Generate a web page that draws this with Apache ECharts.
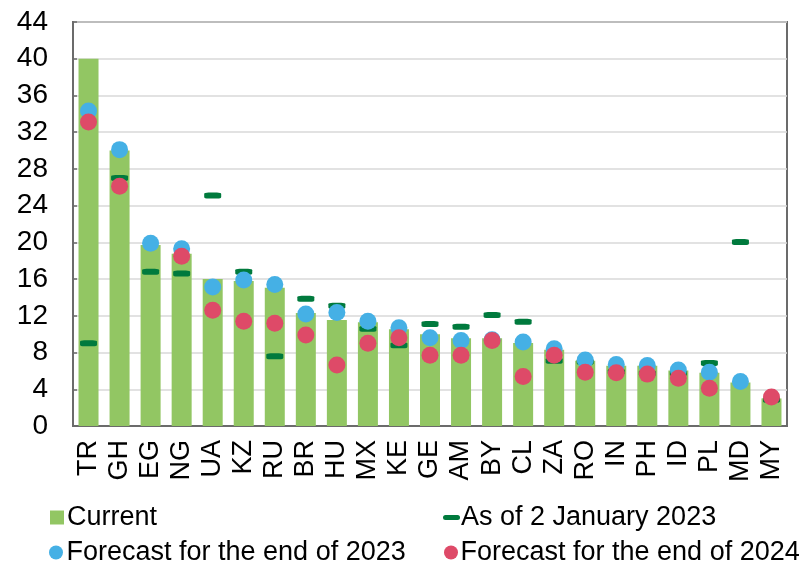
<!DOCTYPE html>
<html>
<head>
<meta charset="utf-8">
<script src="https://cdn.jsdelivr.net/npm/echarts@6/dist/echarts.min.js"></script>
<style>
  html, body { margin: 0; padding: 0; background: #fff; }
  #chart { width: 802px; height: 566px; }
</style>
</head>
<body>
<div id="chart"></div>
<script>
var countries = ['TR', 'GH', 'EG', 'NG', 'UA', 'KZ', 'RU', 'BR', 'HU', 'MX', 'KE', 'GE',
  'AM', 'BY', 'CL', 'ZA', 'RO', 'IN', 'PH', 'ID', 'PL', 'MD', 'MY']
var current = [40, 30, 19.7, 18.75, 16, 15.8, 15.05, 12.3, 11.55, 11.3, 10.55, 10,
  9.55, 9.55, 9.05, 8.3, 7.1, 6.55, 6.55, 6.05, 5.8, 4.75, 3]
var asOfJan2023 = [9, 27, 16.8, 16.6, 25.1, 16.8, 7.6, 13.85, 13.1, 10.6, 8.8, 11.1,
  10.8, 12.1, 11.35, 7.1, 7, 5.9, 5.75, 5.75, 6.85, 20.05, 2.85]
var forecast2023 = [34.3, 30.1, 19.9, 19.3, 15.15, 15.9, 15.4, 12.2, 12.35, 11.4, 10.7, 9.6,
  9.3, 9.4, 9.15, 8.4, 7.2, 6.7, 6.6, 6.1, 5.85, 4.85, null]
var forecast2024 = [33.1, 26.1, null, 18.5, 12.6, 11.4, 11.2, 9.9, 6.65, 9, 9.6, 7.7,
  7.7, 9.3, 5.4, 7.7, 5.85, 5.8, 5.65, 5.2, 4.1, null, 3.15]
var yTicks = { min: 0, max: 44, interval: 4 }

var dashIcon = 'path://M2.5,0 H14.5 A2.5,2.5 0 0 1 14.5,5 H2.5 A2.5,2.5 0 0 1 2.5,0 Z'
var font = 'Liberation Sans, Arial, sans-serif'

// one legend per entry so the two columns line up like the original
function legendItem(name, icon, left, top, w, pad) {
  return {
    left: left, top: top, padding: 0,
    itemWidth: w, itemHeight: 14,
    textStyle: { fontSize: 27, color: '#000', lineHeight: 26, padding: [0, 0, 0, pad] },
    data: [{ name: name, icon: icon }]
  }
}

var chart = echarts.init(document.getElementById('chart'))
chart.setOption({
  animation: false,
  textStyle: { fontFamily: font },
  grid: {
    left: 73, right: 15, top: 22, bottom: 140,
    show: true, borderColor: '#6b6b6b', borderWidth: 2
  },
  legend: [
    legendItem('Current', 'rect', 50, 504, 14, -2),
    legendItem('Forecast for the end of 2023', 'circle', 49, 539, 15, -2),
    legendItem('As of 2 January 2023', dashIcon, 443, 504, 17, -4),
    legendItem('Forecast for the end of 2024', 'circle', 444, 539, 15, -3)
  ],
  xAxis: {
    type: 'category',
    data: countries,
    axisLine: { lineStyle: { color: '#6b6b6b', width: 2 } },
    axisTick: { inside: true, length: 4, lineStyle: { color: '#6b6b6b', width: 1.5 } },
    axisLabel: { rotate: 90, fontSize: 27, color: '#000', margin: 14, interval: 0 }
  },
  yAxis: {
    type: 'value',
    min: yTicks.min, max: yTicks.max, interval: yTicks.interval,
    axisLine: { show: true, lineStyle: { color: '#6b6b6b', width: 2 } },
    axisTick: { show: true, inside: true, length: 4, lineStyle: { color: '#6b6b6b', width: 1.5 } },
    axisLabel: { fontSize: 28, color: '#000', margin: 25 },
    splitLine: { lineStyle: { color: '#d9d9d9', width: 1.5 } }
  },
  series: [
    {
      name: 'Current', type: 'bar', data: current,
      barWidth: 20, z: 1,
      itemStyle: { color: '#92c663' }
    },
    {
      name: 'As of 2 January 2023', type: 'scatter', data: asOfJan2023,
      symbol: 'roundRect', symbolSize: [17, 6], z: 2,
      itemStyle: { color: '#007a3d', opacity: 1 }
    },
    {
      name: 'Forecast for the end of 2023', type: 'scatter', data: forecast2023,
      symbol: 'circle', symbolSize: 17, z: 3,
      itemStyle: { color: '#45b0e5', opacity: 1 }
    },
    {
      name: 'Forecast for the end of 2024', type: 'scatter', data: forecast2024,
      symbol: 'circle', symbolSize: 17, z: 4,
      itemStyle: { color: '#de4a68', opacity: 1 }
    }
  ]
})
</script>
</body>
</html>
